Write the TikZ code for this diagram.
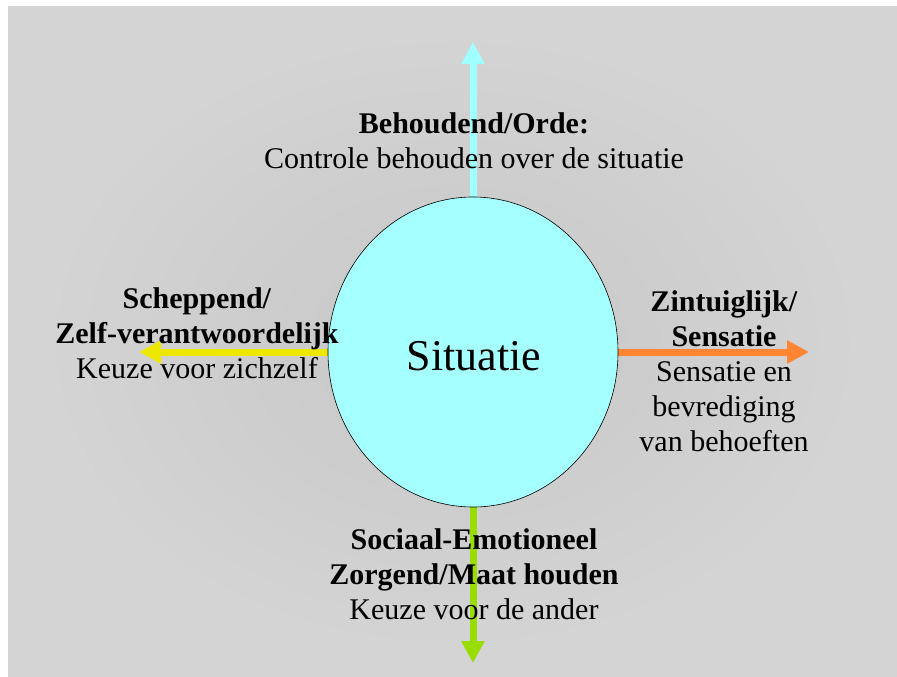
\documentclass[tikz,border=0pt]{standalone}
\usepackage{fontspec}
\setmainfont{Liberation Serif}
\usetikzlibrary{arrows.meta,shapes.geometric}
\definecolor{bgedge}{HTML}{D4D4D4}
\definecolor{bgmid}{HTML}{C7C7C7}
\definecolor{sitfill}{HTML}{A6FFFF}
\definecolor{arrcyan}{HTML}{A0FFFF}
\definecolor{arrorange}{HTML}{FF8533}
\definecolor{arryellow}{HTML}{EEE800}
\definecolor{arrgreen}{HTML}{99DD00}
\tikzset{
  axisarrow/.style={line width=7pt,-{Triangle[width=22pt,length=22pt]}},
  % anchored on the baseline of the last line
  lbl/.style={font=\fontsize{30}{35}\selectfont, align=center, inner sep=0pt, anchor=base},
}
\begin{document}
\begin{tikzpicture}[x=1pt,y=-1pt]
  \useasboundingbox (0,0) rectangle (897,677);
  \fill[white] (0,0) rectangle (897,677);
  % soft grey backdrop, slightly darker towards the middle
  \fill[bgedge] (8,6) rectangle (897,677);
  \shade[inner color=bgmid, outer color=bgedge] (40,30) rectangle (865,653);

  \coordinate (mid) at (473,352);
  \coordinate (tipN) at (473,42);
  \coordinate (tipE) at (809,352);
  \coordinate (tipW) at (139,352);
  \coordinate (tipS) at (473,663);

  % four directions leaving the centre
  \draw[axisarrow, arrcyan] (mid) -- (tipN);
  \draw[axisarrow, arrorange] (mid) -- (tipE);
  \draw[axisarrow, arryellow] (mid) -- (tipW);
  \draw[axisarrow, arrgreen] (mid) -- (tipS);

  \node[ellipse, draw=black, line width=0.6pt, fill=sitfill,
        minimum width=290pt, minimum height=310pt] (sit) at (mid) {};
  \node[font=\fontsize{44}{50}\selectfont, inner sep=0pt, anchor=base] (sitlabel) at (474,370) {Situatie};

  \node[lbl] (north) at (474,168.3) {\textbf{Behoudend/Orde:}\\Controle behouden over de situatie};
  \node[lbl] (west) at (197,378) {\textbf{Scheppend/}\\\textbf{Zelf-verantwoordelijk}\\Keuze voor zichzelf};
  \node[lbl] (east) at (724,451) {\textbf{Zintuiglijk/}\\\textbf{Sensatie}\\Sensatie en\\bevrediging\\van behoeften};
  \node[lbl] (south) at (474,619) {\textbf{Sociaal-Emotioneel}\\\textbf{Zorgend/Maat houden}\\Keuze voor de ander};
\end{tikzpicture}
\end{document}
